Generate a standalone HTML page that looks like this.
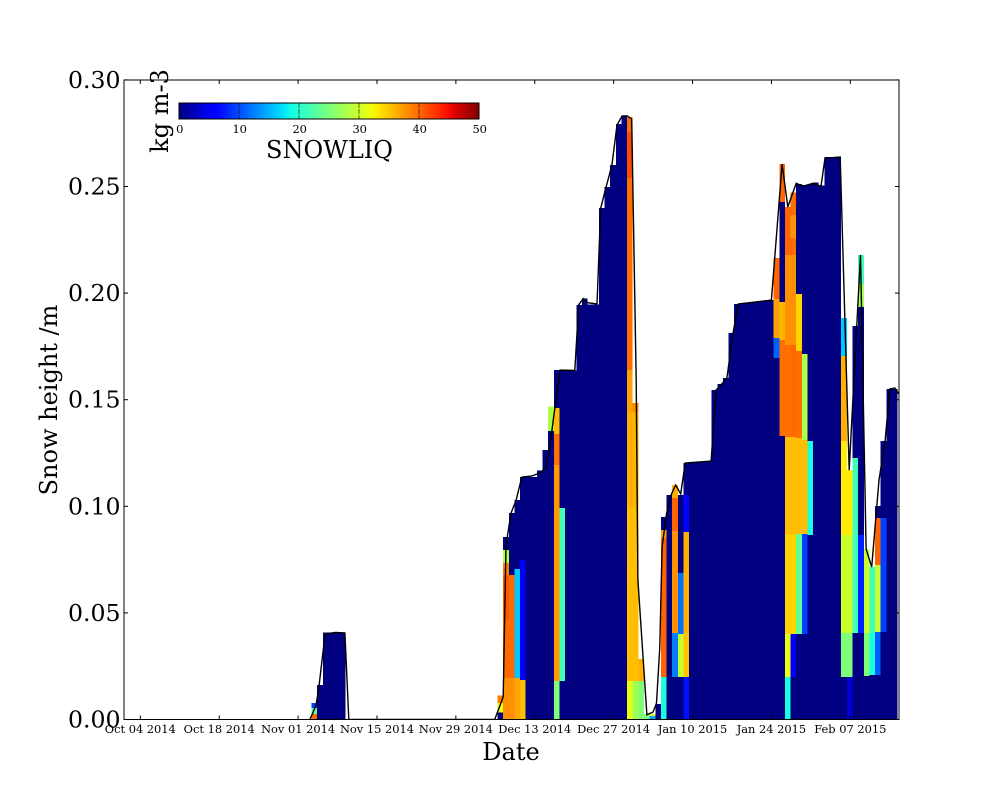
<!DOCTYPE html>
<html>
<head>
<meta charset="utf-8">
<title>SNOWLIQ snow height</title>
<style>
html,body{margin:0;padding:0;background:#fff;}
svg{display:block;}
text{font-family:"DejaVu Serif","Liberation Serif",serif;fill:#000;}
</style>
</head>
<body>
<svg id="chart" xmlns="http://www.w3.org/2000/svg" width="1000" height="800" viewBox="0 0 1000 800">
  <defs>
    <linearGradient id="jet-gradient" x1="0" x2="1" y1="0" y2="0"></linearGradient>
    <clipPath id="plot-clip"><rect x="124" y="80" width="775" height="639.5"></rect></clipPath>
  </defs>
  <rect x="0" y="0" width="1000" height="800" fill="#fff"></rect>
  <g id="cells" clip-path="url(#plot-clip)"></g>
  <polyline id="height-line" clip-path="url(#plot-clip)" fill="none" stroke="#000" stroke-width="1.4"></polyline>
  <rect x="124" y="80" width="775" height="639.5" fill="none" stroke="#000" stroke-width="1"></rect>
  <g id="ticks"></g>
  <g id="x-labels" font-size="11.4" text-anchor="middle"></g>
  <g id="y-labels" font-size="23.6" text-anchor="end"></g>
  <text x="511" y="760" font-size="24" text-anchor="middle">Date</text>
  <text transform="translate(57,400) rotate(-90)" font-size="24" text-anchor="middle">Snow height /m</text>
  <g id="colorbar">
    <rect x="179" y="103" width="300" height="16" fill="url(#jet-gradient)" stroke="#000" stroke-width="1"></rect>
  </g>
  <g id="colorbar-labels" font-size="11.4" text-anchor="middle"></g>
  <text x="329.5" y="158" font-size="24" text-anchor="middle">SNOWLIQ</text>
  <text transform="translate(168,111) rotate(-90)" font-size="24" text-anchor="middle">kg m-3</text>
</svg>
<script>
var xTickDays = [0, 14, 28, 42, 56, 70, 84, 98, 112, 126];
var xTickLabels = ["Oct 04 2014", "Oct 18 2014", "Nov 01 2014", "Nov 15 2014", "Nov 29 2014", "Dec 13 2014", "Dec 27 2014", "Jan 10 2015", "Jan 24 2015", "Feb 07 2015"];
var yTickValues = [0, 0.05, 0.10, 0.15, 0.20, 0.25, 0.30];
var yTickLabels = ["0.00", "0.05", "0.10", "0.15", "0.20", "0.25", "0.30"];
var colorbarTicks = [0, 10, 20, 30, 40, 50];

var lineDays = [30.1, 31.2, 31.7, 32.8, 34.6, 36.3, 37, 62.9, 64.4, 64.9, 65.8, 66.7, 67.7, 69.5, 70.9, 72, 72.7, 73.4, 74.5, 77.1, 77.8, 78.6, 79.4, 81.05, 81.7, 82.6, 83.7, 84.6, 85.5, 86.4, 87.2, 88, 88.3, 89.9, 91, 91.6, 92.2, 92.6, 93.4, 94.2, 95, 95.9, 96.7, 101.3, 102.2, 103.2, 104.1, 105.2, 106.1, 112, 113.9, 114.9, 116.4, 117.6, 119.4, 120.8, 121.5, 124.2, 125.8, 127.8, 128.6, 128.8, 129.8, 131.1, 132.2, 133, 133.9, 134.6];
var lineHeights = [0, 0.0068, 0.0152, 0.0401, 0.0408, 0.0406, 0, 0, 0.0106, 0.0819, 0.0969, 0.103, 0.1137, 0.1142, 0.1156, 0.118, 0.1283, 0.1428, 0.1639, 0.1637, 0.1945, 0.1974, 0.1955, 0.1949, 0.2398, 0.2492, 0.26, 0.2788, 0.2831, 0.2831, 0.2817, 0.1592, 0.0654, 0.0022, 0.0035, 0.0077, 0.034, 0.0809, 0.0968, 0.1053, 0.11, 0.1058, 0.1203, 0.1212, 0.1546, 0.1574, 0.1602, 0.1813, 0.1949, 0.1967, 0.2605, 0.2404, 0.2515, 0.2501, 0.2515, 0.2501, 0.2633, 0.2638, 0.117, 0.2179, 0.1076, 0.08, 0.0715, 0.1123, 0.1311, 0.155, 0.1555, 0.1527];

var columnDays = [30, 31, 32, 33, 34, 35,
  63, 64, 65, 66, 67, 68, 69, 70, 71, 72, 73, 74, 75, 76, 77, 78, 79, 80, 81, 82, 83, 84, 85,
  86, 87, 88, 89, 90, 91, 92, 93, 94, 95, 96, 97, 98, 99, 100, 101, 102, 103, 104, 105, 106, 107, 108, 109, 110, 111,
  112, 113, 114, 115, 116, 117, 118, 119, 120, 121, 122, 123,
  124, 125, 126, 127, 128, 129, 130, 131, 132, 133];

var columnTops = [
  [0.0026, 0.0054, 0.0077], [0.0162], [0.0408], [0.0408], [0.0408], [0.0408],
  [0.0032, 0.0077, 0.0112],
  [0.0195, 0.0467, 0.0678, 0.0734, 0.0795, 0.0856],
  [0.0195, 0.0678, 0.0969],
  [0.0195, 0.0706, 0.103],
  [0.0185, 0.0748, 0.1137],
  [0.1137], [0.1137], [0.1167], [0.1264],
  [0.1354, 0.1469],
  [0.0181, 0.1194, 0.1339, 0.1461, 0.1639],
  [0.0181, 0.0992, 0.1637],
  [0.1637], [0.1637], [0.1945], [0.1974], [0.1946], [0.1946], [0.2398], [0.2497], [0.26], [0.2792], [0.2831],
  [0.0181, 0.0992, 0.1442, 0.1639, 0.2539, 0.2754, 0.2826],
  [0.0181, 0.0992, 0.1442, 0.1484],
  [0.0181, 0.0284],
  [0.0025],
  [0.0016, 0.0025],
  [0.0073],
  [0.0199, 0.0851, 0.0889, 0.095],
  [0.1053],
  [0.0199, 0.0406, 0.0884, 0.1039, 0.11],
  [0.0199, 0.0401, 0.0687, 0.1053],
  [0.0199, 0.0406, 0.0879, 0.1053, 0.1203],
  [0.1203], [0.1205], [0.1208], [0.1212], [0.1546], [0.1574], [0.1602], [0.1813], [0.1949], [0.1951], [0.1955], [0.1958], [0.196], [0.1962], [0.1967],
  [0.1695, 0.1789, 0.1972, 0.2165],
  [0.133, 0.178, 0.1958, 0.2427, 0.2605],
  [0.0199, 0.0401, 0.087, 0.1325, 0.1756, 0.2179, 0.2404],
  [0.0199, 0.0401, 0.087, 0.1325, 0.1756, 0.2179, 0.2259, 0.2367, 0.2472],
  [0.0401, 0.087, 0.132, 0.1728, 0.1996, 0.2512],
  [0.0401, 0.087, 0.1311, 0.1714, 0.2507],
  [0.0865, 0.1306, 0.2512],
  [0.2518], [0.2505], [0.2638], [0.2638], [0.264],
  [0.0199, 0.0406, 0.0865, 0.1306, 0.1705, 0.1883],
  [0.0199, 0.0406, 0.0865, 0.117],
  [0.0406, 0.1226, 0.1846],
  [0.0406, 0.0865, 0.1935, 0.2042, 0.2179],
  [0.0204, 0.0406, 0.08],
  [0.0209, 0.0406, 0.0715],
  [0.0209, 0.041, 0.0725, 0.0945, 0.1001],
  [0.041, 0.0945, 0.1306],
  [0.155], [0.155]
];

var columnLiquid = [
  [39.9, 23.4, 9.4], [0], [0], [0], [0], [0],
  [0, 31.6, 39],
  [37.9, 39.9, 40.8, 39, 28.2, 0],
  [37.9, 39.9, 0],
  [36.8, 16, 0],
  [35.4, 5.5, 0],
  [0], [0], [0], [0],
  [0, 28.2],
  [25.2, 37.4, 39.6, 35.4, 0],
  [0, 21.4, 0],
  [0], [0], [0], [0], [0], [0], [0], [0], [0], [0], [0],
  [31.6, 35.4, 36.2, 37, 39.6, 41.6, 39.6],
  [27.2, 35.4, 35.9, 38],
  [25.2, 36.2],
  [25.2],
  [14, 30],
  [0],
  [19, 40.2, 37, 0],
  [0],
  [0, 12.5, 37.9, 40.2, 36.2],
  [0, 29.6, 11.8, 0],
  [7, 35, 36.2, 5.5, 0],
  [0], [0], [0], [0], [0], [0], [0], [0], [0], [0], [0], [0], [0], [0], [0],
  [0, 11, 37, 40.2],
  [0, 39.6, 35.9, 0, 40.2],
  [19, 31.6, 34.2, 35.4, 39.6, 37.9, 40.2],
  [0, 5.5, 34.2, 35.4, 39.9, 37.9, 39.6, 37.6, 39.6],
  [0, 23.4, 35.4, 39.6, 34.2, 0],
  [0, 9.4, 35.4, 28.2, 0],
  [0, 19, 0],
  [0], [0], [0], [0], [0],
  [0, 25.2, 29.8, 33, 36.2, 16],
  [3.5, 25.2, 29.8, 33],
  [0, 21.4, 0],
  [0, 7.8, 0, 27.4, 21.4],
  [0, 25.2, 29.6],
  [0, 19, 21.4],
  [0, 11, 29.6, 40.2, 0],
  [0, 9.4, 0],
  [0], [0]
];

var liquidMax = 50;
var svgNS = "http://www.w3.org/2000/svg";

function xScale(day) { return 140.3 + 5.635 * day; }
function yScale(h) { return 719.5 - 2132 * h; }
function cbScale(v) { return 179 + 300 * v / liquidMax; }

function ramp(v, pts) {
  for (var i = 1; i < pts.length; i++) {
    if (v <= pts[i][0]) {
      var a = pts[i - 1], b = pts[i];
      return a[1] + (b[1] - a[1]) * (v - a[0]) / (b[0] - a[0]);
    }
  }
  return pts[pts.length - 1][1];
}
function jet(t) {
  var r = ramp(t, [[0, 0], [0.35, 0], [0.66, 1], [0.89, 1], [1, 0.5]]);
  var g = ramp(t, [[0, 0], [0.125, 0], [0.375, 1], [0.64, 1], [0.91, 0], [1, 0]]);
  var b = ramp(t, [[0, 0.5], [0.11, 1], [0.34, 1], [0.65, 0], [1, 0]]);
  return "rgb(" + Math.round(r * 255) + "," + Math.round(g * 255) + "," + Math.round(b * 255) + ")";
}
function make(tag, attrs, parent) {
  var el = document.createElementNS(svgNS, tag);
  for (var k in attrs) el.setAttribute(k, attrs[k]);
  parent.appendChild(el);
  return el;
}

var cellsGroup = document.getElementById("cells");
columnDays.forEach(function (day, c) {
  var left = xScale(day + 0.39);
  var right = xScale(day + 1.39);
  var bottom = 0;
  columnTops[c].forEach(function (top, l) {
    var cell = make("rect", {
      x: left, width: right - left,
      y: yScale(top), height: yScale(bottom) - yScale(top),
      fill: jet(columnLiquid[c][l] / liquidMax),
      "shape-rendering": "crispEdges"
    }, cellsGroup);
    
    
    bottom = top;
  });
});

document.getElementById("height-line").setAttribute("points", lineDays.map(function (d, i) {
  return xScale(d).toFixed(1) + "," + yScale(lineHeights[i]).toFixed(1);
}).join(" "));

var tickGroup = document.getElementById("ticks");
var xLabelGroup = document.getElementById("x-labels");
xTickDays.forEach(function (d, i) {
  var x = xScale(d);
  var bottomTick = make("line", { x1: x, x2: x, y1: 719.5, y2: 715.5, stroke: "#000" }, tickGroup);
  
  
  var topTick = make("line", { x1: x, x2: x, y1: 80, y2: 84, stroke: "#000" }, tickGroup);
  
  
  var label = make("text", { x: x, y: 733 }, xLabelGroup);
  
  
  label.textContent = xTickLabels[i];
});

var yLabelGroup = document.getElementById("y-labels");
yTickValues.forEach(function (v, i) {
  var y = yScale(v);
  var leftTick = make("line", { x1: 124, x2: 128, y1: y, y2: y, stroke: "#000" }, tickGroup);
  
  
  var rightTick = make("line", { x1: 899, x2: 895, y1: y, y2: y, stroke: "#000" }, tickGroup);
  
  
  var label = make("text", { x: 120.5, y: y + 8 }, yLabelGroup);
  
  
  label.textContent = yTickLabels[i];
});

var gradient = document.getElementById("jet-gradient");
for (var s = 0; s <= 64; s++) {
  make("stop", { offset: s / 64, "stop-color": jet(s / 64) }, gradient);
}

var colorbarGroup = document.getElementById("colorbar");
var colorbarLabelGroup = document.getElementById("colorbar-labels");
colorbarTicks.forEach(function (v) {
  var x = cbScale(v);
  if (v > 0 && v < liquidMax) {
    var divider = make("line", { x1: x, x2: x, y1: 103, y2: 119, stroke: "#000", "stroke-width": 0.8, "stroke-opacity": 0.7, "stroke-dasharray": "5 1" }, colorbarGroup);
    
    
  }
  var label = make("text", { x: x + 0.7, y: 133 }, colorbarLabelGroup);
  
  
  label.textContent = String(v);
});
</script>
</body>
</html>
